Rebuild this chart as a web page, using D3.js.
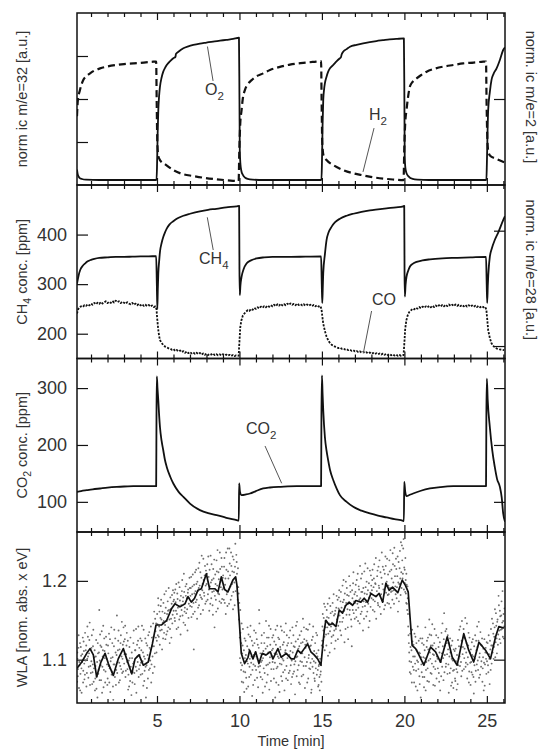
<!DOCTYPE html>
<html>
<head>
<meta charset="utf-8">
<script src="https://cdn.jsdelivr.net/npm/d3@7"></script>
<style>
  body { margin: 0; background: #fff; }
  svg { display: block; font-family: "Liberation Sans", Arial, sans-serif; }
</style>
</head>
<body>
<svg id="drawing_region"></svg>
<script>
// x axis: time [min]
const time_range = [0.15, 26.1];
const time_labels = [5, 10, 15, 20, 25];
const time_minor = d3.range(1, 27);

// panel 1: normalized ion currents (O2 = m/e 32, H2 = m/e 2)
const o2_data = [[0.15,0.09],[0.2,0.06],[0.3,0.042],[0.45,0.035],[0.7,0.031],[1.5,0.029],[3,0.029],[4.97,0.029],[5.0,0.10],[5.04,0.30],[5.08,0.436],[5.13,0.52],[5.18,0.571],[5.28,0.625],[5.38,0.659],[5.48,0.68],[5.59,0.698],[5.8,0.72],[5.99,0.737],[6.12,0.745],[6.15,0.762],[6.3,0.775],[6.6,0.795],[6.9,0.806],[7.2,0.814],[7.6,0.822],[8.0,0.828],[8.4,0.834],[8.82,0.839],[9.2,0.844],[9.62,0.849],[9.97,0.856],[10.0,0.5],[10.02,0.2],[10.06,0.12],[10.12,0.08],[10.2,0.06],[10.35,0.042],[10.5,0.035],[10.8,0.031],[11.5,0.029],[13,0.029],[14.97,0.029],[15.0,0.12],[15.04,0.35],[15.08,0.494],[15.13,0.555],[15.18,0.591],[15.28,0.63],[15.38,0.659],[15.5,0.68],[15.69,0.698],[15.9,0.72],[16.09,0.737],[16.15,0.742],[16.2,0.76],[16.29,0.775],[16.5,0.79],[16.7,0.804],[17.1,0.815],[17.5,0.824],[17.9,0.831],[18.3,0.837],[18.7,0.842],[19.1,0.847],[19.5,0.849],[19.97,0.852],[20.0,0.5],[20.02,0.16],[20.06,0.1],[20.13,0.068],[20.25,0.05],[20.5,0.035],[20.8,0.031],[21.5,0.029],[23,0.029],[24.97,0.029],[25.0,0.12],[25.04,0.3],[25.08,0.436],[25.18,0.54],[25.28,0.61],[25.4,0.645],[25.59,0.678],[25.8,0.73],[25.99,0.785],[26.1,0.8]];
const h2_data = [[0.15,0.40],[0.2,0.49],[0.33,0.552],[0.53,0.61],[0.75,0.635],[0.94,0.649],[1.2,0.665],[1.55,0.678],[2.0,0.689],[2.56,0.698],[3.0,0.703],[3.56,0.707],[4.2,0.712],[4.78,0.717],[4.95,0.718],[4.98,0.5],[5.02,0.25],[5.08,0.17],[5.18,0.145],[5.5,0.12],[5.99,0.087],[6.5,0.065],[7.2,0.052],[7.9,0.041],[8.62,0.033],[9.3,0.027],[9.95,0.023],[9.99,0.2],[10.05,0.36],[10.13,0.436],[10.2,0.50],[10.33,0.552],[10.5,0.585],[10.74,0.61],[11.0,0.63],[11.44,0.649],[11.85,0.669],[12.4,0.685],[13.06,0.7],[13.87,0.71],[14.5,0.716],[14.95,0.72],[14.98,0.5],[15.02,0.25],[15.1,0.17],[15.28,0.145],[15.7,0.115],[16.29,0.087],[16.9,0.068],[17.5,0.056],[18.1,0.045],[18.72,0.037],[19.3,0.032],[19.95,0.028],[19.99,0.2],[20.05,0.36],[20.13,0.436],[20.22,0.51],[20.33,0.571],[20.5,0.60],[20.74,0.62],[21.0,0.638],[21.35,0.659],[21.8,0.675],[22.35,0.688],[23.0,0.698],[23.56,0.707],[24.2,0.712],[24.78,0.717],[24.95,0.718],[24.98,0.5],[25.02,0.3],[25.08,0.2],[25.2,0.17],[25.5,0.155],[25.8,0.142],[26.1,0.13]];
const norm_ticks = [0.25, 0.5, 0.75];
const h2_ticks = [0.5];

// panel 2: CH4 [ppm] (left) and CO, norm. ic m/e=28 (right)
const ch4_data = [[0.15,301],[0.25,318],[0.35,329],[0.5,337],[0.65,342],[0.8,346],[1.0,349],[1.2,351],[1.5,353],[2.0,354],[2.5,355],[3.0,355],[3.5,355.5],[4.0,356],[4.5,356],[4.95,356.5],[4.99,300],[5.02,250],[5.05,290],[5.08,322],[5.13,346],[5.18,365],[5.28,383],[5.38,395],[5.48,404],[5.59,412],[5.75,420],[5.99,427],[6.25,433],[6.6,438],[7.0,442],[7.6,447],[8.1,450],[8.6,452],[9.2,455],[9.83,457],[9.98,458],[10.0,330],[10.02,278],[10.06,298],[10.13,315],[10.25,330],[10.44,342],[10.7,348],[11.05,352],[11.5,354],[12.0,355],[13.0,355],[14.0,355.5],[14.95,356],[14.99,300],[15.02,262],[15.05,290],[15.08,322],[15.18,360],[15.28,389],[15.4,404],[15.59,416],[15.8,425],[16.09,432],[16.5,438],[16.9,442],[17.4,446],[17.91,449],[18.4,451],[18.92,453],[19.5,455],[19.93,457],[19.99,458],[20.01,320],[20.03,275],[20.07,298],[20.13,315],[20.23,327],[20.33,335],[20.5,341],[20.74,345],[21.1,348],[21.55,350],[22.3,352],[22.96,353],[24.0,354],[24.95,355],[24.99,300],[25.02,262],[25.06,300],[25.12,335],[25.18,355],[25.3,372],[25.48,389],[25.7,405],[25.99,429],[26.1,437]];
const co_data = [[0.15,0.641],[0.22,0.659],[0.3,0.668],[0.4,0.672],[0.5,0.669],[0.6,0.677],[0.7,0.674],[0.8,0.681],[0.9,0.676],[1.0,0.684],[1.1,0.679],[1.2,0.687],[1.3,0.681],[1.4,0.688],[1.5,0.683],[1.6,0.691],[1.7,0.684],[1.8,0.689],[1.9,0.694],[2.0,0.686],[2.1,0.692],[2.2,0.687],[2.3,0.695],[2.4,0.689],[2.5,0.697],[2.6,0.690],[2.7,0.694],[2.8,0.686],[2.9,0.692],[3.0,0.688],[3.1,0.683],[3.2,0.690],[3.3,0.684],[3.4,0.681],[3.5,0.687],[3.6,0.679],[3.7,0.684],[3.8,0.677],[3.9,0.683],[4.0,0.676],[4.1,0.681],[4.2,0.674],[4.3,0.679],[4.4,0.673],[4.5,0.678],[4.6,0.671],[4.7,0.676],[4.8,0.669],[4.9,0.672],[4.97,0.660],[5.02,0.612],[5.08,0.569],[5.13,0.543],[5.18,0.526],[5.28,0.513],[5.38,0.505],[5.5,0.497],[5.6,0.494],[5.7,0.490],[5.8,0.489],[5.9,0.484],[6.0,0.487],[6.1,0.479],[6.2,0.483],[6.3,0.477],[6.4,0.481],[6.5,0.474],[6.6,0.478],[6.7,0.471],[6.8,0.476],[6.9,0.469],[7.0,0.474],[7.1,0.468],[7.2,0.472],[7.3,0.466],[7.4,0.471],[7.5,0.465],[7.6,0.470],[7.7,0.463],[7.8,0.468],[7.9,0.462],[8.0,0.467],[8.1,0.461],[8.2,0.466],[8.3,0.463],[8.4,0.468],[8.5,0.461],[8.6,0.465],[8.7,0.460],[8.8,0.464],[8.9,0.459],[9.0,0.465],[9.1,0.460],[9.2,0.463],[9.3,0.458],[9.4,0.462],[9.5,0.457],[9.6,0.461],[9.7,0.456],[9.8,0.460],[9.95,0.458],[10.0,0.52],[10.05,0.582],[10.12,0.612],[10.2,0.631],[10.3,0.641],[10.4,0.649],[10.5,0.655],[10.6,0.652],[10.7,0.661],[10.8,0.657],[10.9,0.665],[11.0,0.661],[11.1,0.668],[11.2,0.663],[11.3,0.671],[11.4,0.666],[11.5,0.673],[11.6,0.668],[11.7,0.675],[11.8,0.670],[11.9,0.677],[12.0,0.672],[12.1,0.679],[12.2,0.673],[12.3,0.681],[12.4,0.675],[12.5,0.683],[12.6,0.676],[12.7,0.682],[12.8,0.677],[12.9,0.684],[13.0,0.678],[13.1,0.685],[13.2,0.679],[13.3,0.683],[13.4,0.677],[13.5,0.684],[13.6,0.678],[13.7,0.682],[13.8,0.676],[13.9,0.681],[14.0,0.675],[14.1,0.680],[14.2,0.674],[14.3,0.679],[14.4,0.673],[14.5,0.678],[14.6,0.672],[14.7,0.677],[14.8,0.671],[14.9,0.674],[14.97,0.662],[15.03,0.625],[15.08,0.597],[15.18,0.565],[15.28,0.541],[15.4,0.522],[15.5,0.512],[15.6,0.505],[15.7,0.501],[15.8,0.497],[15.9,0.495],[16.0,0.491],[16.1,0.493],[16.2,0.488],[16.3,0.490],[16.4,0.485],[16.5,0.487],[16.6,0.482],[16.7,0.484],[16.8,0.479],[16.9,0.482],[17.0,0.477],[17.1,0.479],[17.2,0.474],[17.3,0.477],[17.4,0.472],[17.5,0.475],[17.6,0.470],[17.7,0.473],[17.8,0.468],[17.9,0.472],[18.0,0.467],[18.1,0.470],[18.2,0.465],[18.3,0.469],[18.4,0.464],[18.5,0.468],[18.6,0.463],[18.7,0.467],[18.8,0.462],[18.9,0.466],[19.0,0.461],[19.1,0.465],[19.2,0.460],[19.3,0.464],[19.4,0.459],[19.5,0.463],[19.6,0.458],[19.7,0.462],[19.8,0.457],[19.95,0.461],[20.0,0.515],[20.05,0.575],[20.12,0.612],[20.2,0.633],[20.3,0.648],[20.4,0.655],[20.5,0.662],[20.6,0.659],[20.7,0.666],[20.8,0.662],[20.9,0.669],[21.0,0.664],[21.1,0.671],[21.2,0.666],[21.3,0.672],[21.4,0.667],[21.5,0.674],[21.6,0.668],[21.7,0.675],[21.8,0.669],[21.9,0.676],[22.0,0.670],[22.1,0.677],[22.2,0.671],[22.3,0.678],[22.4,0.672],[22.5,0.679],[22.6,0.673],[22.7,0.680],[22.8,0.674],[22.9,0.679],[23.0,0.673],[23.1,0.680],[23.2,0.674],[23.3,0.679],[23.4,0.673],[23.5,0.678],[23.6,0.672],[23.7,0.678],[23.8,0.671],[23.9,0.677],[24.0,0.671],[24.1,0.676],[24.2,0.670],[24.3,0.675],[24.4,0.669],[24.5,0.674],[24.6,0.668],[24.7,0.673],[24.8,0.668],[24.9,0.670],[24.97,0.658],[25.03,0.610],[25.08,0.569],[25.18,0.535],[25.28,0.512],[25.4,0.500],[25.5,0.493],[25.6,0.489],[25.7,0.487],[25.8,0.485],[25.9,0.484],[26.05,0.482]];
const ch4_ticks = [200, 300, 400];
const co_ticks = [0.5, 1.0];

// panel 3: CO2 [ppm]
const co2_data = [[0.15,117.5],[0.4,119],[0.74,120.5],[1.1,122],[1.55,123.5],[2.0,125],[2.56,126.3],[3.0,127],[3.56,127.5],[4.2,127.8],[4.95,127.5],[4.97,250],[4.99,320.5],[5.03,300],[5.08,278],[5.13,252],[5.18,231.6],[5.28,207],[5.38,190.7],[5.48,174],[5.59,161.4],[5.79,145],[5.99,132.3],[6.3,118],[6.6,108.8],[7.0,97],[7.6,85.4],[8.1,80],[8.62,76.7],[9.2,72],[9.83,67.9],[9.96,67],[9.98,132.3],[10.03,118],[10.13,111.8],[10.4,113],[10.64,114.7],[11.0,119],[11.44,123.5],[11.85,125.2],[12.5,126.5],[13.47,127.5],[14.2,127.8],[14.95,127.8],[14.97,250],[15.0,322.3],[15.04,290],[15.08,260.9],[15.18,214],[15.28,190],[15.38,173],[15.5,155],[15.69,138],[15.9,123],[16.09,111.8],[16.5,100],[16.9,91.2],[17.4,84.5],[17.91,79.6],[18.4,75.8],[18.92,72.6],[19.4,69.5],[19.93,66.7],[19.97,66.2],[19.99,135],[20.05,118],[20.13,110],[20.3,112],[20.53,114.7],[21.0,119.5],[21.55,123.5],[22.2,126],[22.96,127.5],[24.0,127.8],[24.95,127.8],[24.97,250],[25.0,316.5],[25.05,280],[25.18,231.6],[25.33,190],[25.48,161.4],[25.62,140],[25.79,126.3],[25.9,108],[25.99,79.6],[26.1,65]];
const co2_ticks = [100, 200, 300];

// panel 4: WLA, single readings (grey dots) and running mean (black line)
const wla_mean = [[0.15,1.089],[0.44,1.097],[0.74,1.108],[0.94,1.114],[1.14,1.106],[1.34,1.078],[1.6,1.097],[1.85,1.108],[2.05,1.095],[2.35,1.080],[2.65,1.101],[2.96,1.114],[3.16,1.101],[3.47,1.082],[3.67,1.101],[3.91,1.106],[4.17,1.093],[4.47,1.097],[4.72,1.120],[4.94,1.144],[5.28,1.144],[5.59,1.150],[5.89,1.165],[6.09,1.171],[6.39,1.167],[6.7,1.171],[6.88,1.180],[7.08,1.173],[7.28,1.178],[7.48,1.188],[7.69,1.190],[7.99,1.209],[8.19,1.190],[8.5,1.190],[8.7,1.186],[8.9,1.205],[9.1,1.189],[9.3,1.186],[9.6,1.201],[9.77,1.205],[9.85,1.194],[10.01,1.142],[10.11,1.108],[10.31,1.095],[10.52,1.103],[10.62,1.112],[10.82,1.101],[10.98,1.110],[11.18,1.095],[11.38,1.108],[11.62,1.106],[11.87,1.110],[12.03,1.101],[12.33,1.114],[12.53,1.103],[12.84,1.108],[13.14,1.101],[13.32,1.101],[13.53,1.112],[13.73,1.108],[13.93,1.114],[14.13,1.120],[14.33,1.110],[14.53,1.106],[14.74,1.101],[14.94,1.093],[15.14,1.137],[15.24,1.150],[15.44,1.144],[15.65,1.146],[15.85,1.142],[16.05,1.163],[16.25,1.159],[16.45,1.169],[16.65,1.173],[16.86,1.169],[17.06,1.175],[17.36,1.173],[17.56,1.178],[17.77,1.173],[17.97,1.184],[18.27,1.180],[18.47,1.184],[18.68,1.173],[18.88,1.197],[19.08,1.188],[19.28,1.192],[19.6,1.185],[19.87,1.201],[20.07,1.194],[20.23,1.186],[20.37,1.146],[20.47,1.118],[20.68,1.114],[20.88,1.106],[21.18,1.093],[21.59,1.116],[21.89,1.110],[22.19,1.097],[22.6,1.129],[22.9,1.103],[23.2,1.093],[23.6,1.133],[23.9,1.112],[24.2,1.097],[24.52,1.122],[24.92,1.112],[25.22,1.101],[25.53,1.129],[25.73,1.142],[26.03,1.140]];
const wla_points = [
[0.16,1.072],[0.18,1.101],[0.21,1.088],[0.24,1.115],[0.27,1.064],[0.3,1.093],[0.33,1.121],[0.36,1.082],[0.4,1.105],[0.43,1.058],[0.46,1.097],[0.5,1.128],[0.53,1.086],[0.57,1.111],[0.6,1.075],[0.64,1.134],[0.67,1.099],[0.71,1.118],[0.75,1.083],[0.78,1.142],[0.82,1.104],[0.86,1.091],[0.9,1.125],[0.94,1.068],[0.97,1.113],
[1.02,1.098],[1.05,1.131],[1.09,1.084],[1.12,1.117],[1.16,1.072],[1.2,1.103],[1.24,1.061],[1.27,1.092],[1.31,1.125],[1.35,1.079],[1.39,1.052],[1.42,1.108],[1.46,1.087],[1.5,1.163],[1.53,1.099],[1.57,1.118],[1.61,1.074],[1.65,1.136],[1.69,1.091],[1.72,1.112],[1.76,1.065],[1.8,1.127],[1.84,1.102],[1.88,1.085],[1.93,1.119],[1.97,1.094],
[2.01,1.076],[2.05,1.108],[2.09,1.133],[2.13,1.089],[2.17,1.059],[2.21,1.102],[2.25,1.081],[2.29,1.121],[2.33,1.066],[2.37,1.094],[2.41,1.138],[2.45,1.078],[2.49,1.109],[2.53,1.087],[2.57,1.156],[2.61,1.097],[2.65,1.124],[2.69,1.071],[2.73,1.113],[2.77,1.092],[2.81,1.131],[2.85,1.104],[2.89,1.083],[2.93,1.119],[2.97,1.141],
[3.01,1.095],[3.05,1.126],[3.09,1.078],[3.13,1.107],[3.17,1.134],[3.21,1.088],[3.25,1.062],[3.29,1.099],[3.33,1.116],[3.37,1.073],[3.41,1.091],[3.45,1.055],[3.49,1.102],[3.53,1.084],[3.57,1.121],[3.61,1.097],[3.65,1.069],[3.69,1.112],[3.73,1.139],[3.77,1.086],[3.81,1.104],[3.85,1.124],[3.89,1.078],[3.93,1.115],[3.97,1.093],
[4.01,1.081],[4.05,1.112],[4.09,1.143],[4.13,1.098],[4.17,1.067],[4.21,1.104],[4.25,1.086],[4.29,1.127],[4.33,1.052],[4.37,1.093],[4.41,1.118],[4.45,1.076],[4.49,1.101],[4.53,1.135],[4.57,1.089],[4.61,1.113],[4.65,1.071],[4.69,1.128],[4.73,1.104],[4.77,1.146],[4.81,1.117],[4.85,1.091],[4.89,1.152],[4.93,1.128],[4.97,1.109],
[5.01,1.158],[5.05,1.131],[5.09,1.169],[5.13,1.142],[5.17,1.119],[5.21,1.153],[5.25,1.176],[5.29,1.138],[5.33,1.161],[5.37,1.127],[5.41,1.149],[5.45,1.183],[5.49,1.144],[5.53,1.166],[5.57,1.132],[5.61,1.158],[5.65,1.174],[5.69,1.141],[5.73,1.163],[5.77,1.121],[5.81,1.179],[5.85,1.152],[5.89,1.171],[5.93,1.146],[5.97,1.188],
[6.01,1.162],[6.05,1.185],[6.09,1.149],[6.13,1.173],[6.17,1.196],[6.21,1.158],[6.25,1.177],[6.29,1.141],[6.33,1.168],[6.37,1.192],[6.41,1.155],[6.45,1.181],[6.49,1.163],[6.53,1.201],[6.57,1.174],[6.61,1.147],[6.65,1.186],[6.69,1.166],[6.73,1.193],[6.77,1.159],[6.81,1.178],[6.85,1.137],[6.89,1.189],[6.93,1.171],[6.97,1.204],
[7.01,1.168],[7.05,1.191],[7.09,1.154],[7.13,1.183],[7.17,1.208],[7.21,1.172],[7.23,1.113],[7.25,1.195],[7.29,1.161],[7.33,1.187],[7.37,1.214],[7.41,1.176],[7.45,1.199],[7.49,1.166],[7.53,1.191],[7.57,1.223],[7.61,1.182],[7.65,1.158],[7.69,1.204],[7.73,1.177],[7.77,1.196],[7.81,1.228],[7.85,1.185],[7.89,1.207],[7.93,1.171],[7.97,1.213],
[8.01,1.196],[8.05,1.221],[8.09,1.183],[8.13,1.205],[8.17,1.162],[8.21,1.193],[8.25,1.232],[8.29,1.178],[8.33,1.201],[8.37,1.169],[8.41,1.215],[8.45,1.187],[8.49,1.141],[8.53,1.208],[8.57,1.176],[8.61,1.226],[8.65,1.194],[8.69,1.165],[8.73,1.211],[8.77,1.183],[8.81,1.236],[8.85,1.199],[8.89,1.172],[8.93,1.218],[8.97,1.189],
[9.01,1.207],[9.05,1.176],[9.09,1.229],[9.13,1.195],[9.17,1.158],[9.21,1.214],[9.25,1.186],[9.29,1.241],[9.33,1.203],[9.37,1.171],[9.41,1.222],[9.45,1.193],[9.49,1.236],[9.53,1.181],[9.57,1.212],[9.61,1.164],[9.65,1.227],[9.69,1.198],[9.73,1.218],[9.77,1.187],[9.81,1.233],[9.85,1.209],[9.89,1.176],[9.93,1.192],[9.97,1.151],
[10.02,1.128],[10.05,1.163],[10.08,1.096],[10.11,1.121],[10.14,1.072],[10.17,1.108],[10.21,1.139],[10.25,1.085],[10.29,1.059],[10.33,1.102],[10.37,1.124],[10.41,1.077],[10.45,1.098],[10.49,1.141],[10.53,1.066],[10.57,1.113],[10.61,1.091],[10.65,1.129],[10.69,1.081],[10.73,1.104],[10.77,1.054],[10.81,1.118],[10.85,1.094],[10.89,1.137],[10.93,1.074],[10.97,1.109],
[11.01,1.087],[11.05,1.126],[11.09,1.101],[11.13,1.065],[11.17,1.115],[11.21,1.146],[11.25,1.092],[11.29,1.078],[11.33,1.121],[11.37,1.099],[11.41,1.058],[11.45,1.111],[11.49,1.134],[11.53,1.083],[11.57,1.106],[11.61,1.149],[11.65,1.071],[11.69,1.117],[11.73,1.094],[11.77,1.128],[11.81,1.062],[11.85,1.103],[11.89,1.139],[11.93,1.088],[11.97,1.112],
[12.01,1.097],[12.05,1.131],[12.09,1.076],[12.13,1.108],[12.17,1.052],[12.21,1.119],[12.25,1.089],[12.29,1.143],[12.33,1.104],[12.37,1.068],[12.41,1.126],[12.45,1.095],[12.49,1.113],[12.53,1.079],[12.57,1.137],[12.61,1.101],[12.65,1.084],[12.69,1.122],[12.73,1.061],[12.77,1.109],[12.81,1.146],[12.85,1.092],[12.89,1.118],[12.93,1.074],[12.97,1.105],
[13.01,1.128],[13.05,1.086],[13.09,1.111],[13.13,1.069],[13.17,1.099],[13.21,1.141],[13.25,1.082],[13.29,1.117],[13.33,1.094],[13.37,1.056],[13.41,1.123],[13.45,1.103],[13.49,1.148],[13.53,1.087],[13.57,1.114],[13.61,1.071],[13.65,1.131],[13.69,1.098],[13.73,1.121],[13.77,1.079],[13.81,1.108],[13.85,1.152],[13.89,1.092],[13.93,1.126],[13.97,1.064],
[14.01,1.115],[14.05,1.139],[14.09,1.097],[14.13,1.121],[14.17,1.076],[14.21,1.106],[14.25,1.145],[14.29,1.088],[14.33,1.118],[14.35,1.058],[14.37,1.062],[14.41,1.101],[14.45,1.129],[14.49,1.083],[14.53,1.111],[14.57,1.073],[14.61,1.096],[14.65,1.134],[14.69,1.081],[14.73,1.104],[14.77,1.066],[14.8,1.068],[14.81,1.092],[14.85,1.078],[14.89,1.101],[14.93,1.085],[14.97,1.072],
[15.02,1.124],[15.05,1.158],[15.09,1.137],[15.13,1.171],[15.17,1.112],[15.21,1.149],[15.25,1.132],[15.29,1.163],[15.33,1.141],[15.37,1.105],[15.41,1.153],[15.45,1.178],[15.49,1.136],[15.53,1.159],[15.57,1.121],[15.61,1.147],[15.65,1.172],[15.69,1.131],[15.73,1.156],[15.77,1.114],[15.81,1.162],[15.85,1.139],[15.89,1.181],[15.93,1.148],[15.97,1.126],
[16.01,1.165],[16.05,1.188],[16.09,1.148],[16.13,1.174],[16.17,1.131],[16.21,1.161],[16.25,1.194],[16.29,1.153],[16.33,1.176],[16.37,1.122],[16.41,1.168],[16.45,1.199],[16.49,1.157],[16.53,1.182],[16.57,1.141],[16.61,1.171],[16.65,1.206],[16.69,1.163],[16.73,1.186],[16.77,1.151],[16.81,1.117],[16.85,1.178],[16.89,1.197],[16.93,1.159],[16.97,1.183],
[17.01,1.172],[17.05,1.195],[17.09,1.154],[17.13,1.181],[17.17,1.209],[17.21,1.166],[17.25,1.189],[17.29,1.146],[17.33,1.178],[17.37,1.203],[17.41,1.161],[17.45,1.186],[17.49,1.137],[17.53,1.174],[17.57,1.212],[17.61,1.168],[17.65,1.192],[17.69,1.155],[17.73,1.183],[17.77,1.216],[17.81,1.171],[17.85,1.197],[17.89,1.149],[17.93,1.185],[17.97,1.207],
[18.01,1.178],[18.05,1.201],[18.09,1.163],[18.13,1.192],[18.17,1.221],[18.21,1.174],[18.25,1.196],[18.29,1.152],[18.33,1.187],[18.37,1.213],[18.41,1.169],[18.45,1.194],[18.49,1.226],[18.53,1.181],[18.57,1.158],[18.61,1.204],[18.65,1.176],[18.69,1.218],[18.73,1.189],[18.77,1.164],[18.81,1.209],[18.85,1.231],[18.89,1.185],[18.93,1.199],[18.97,1.172],
[19.01,1.208],[19.05,1.183],[19.09,1.226],[19.13,1.191],[19.17,1.166],[19.21,1.214],[19.25,1.187],[19.29,1.235],[19.33,1.198],[19.37,1.171],[19.41,1.219],[19.45,1.193],[19.49,1.228],[19.53,1.178],[19.57,1.206],[19.61,1.161],[19.65,1.224],[19.69,1.196],[19.73,1.238],[19.77,1.182],[19.81,1.211],[19.85,1.245],[19.89,1.203],[19.93,1.241],[19.97,1.189],
[20.02,1.214],[20.05,1.186],[20.08,1.201],[20.11,1.172],[20.14,1.195],[20.17,1.163],[20.2,1.178],[20.23,1.142],[20.27,1.121],[20.31,1.098],[20.35,1.133],[20.39,1.082],[20.43,1.112],[20.47,1.138],[20.51,1.091],[20.55,1.119],[20.59,1.071],[20.63,1.104],[20.67,1.129],[20.71,1.086],[20.75,1.112],[20.79,1.061],[20.83,1.097],[20.87,1.124],[20.91,1.079],[20.95,1.108],[20.99,1.052],
[21.03,1.094],[21.07,1.121],[21.11,1.078],[21.15,1.103],[21.19,1.065],[21.23,1.112],[21.27,1.141],[21.31,1.087],[21.35,1.116],[21.39,1.073],[21.43,1.128],[21.47,1.099],[21.51,1.151],[21.55,1.109],[21.59,1.083],[21.63,1.131],[21.67,1.095],[21.71,1.118],[21.75,1.068],[21.79,1.106],[21.83,1.139],[21.87,1.088],[21.91,1.114],[21.95,1.076],
[22.01,1.101],[22.05,1.128],[22.09,1.083],[22.13,1.109],[22.17,1.061],[22.21,1.097],[22.25,1.134],[22.29,1.091],[22.33,1.117],[22.37,1.074],[22.41,1.159],[22.45,1.106],[22.49,1.136],[22.53,1.095],[22.57,1.121],[22.61,1.082],[22.65,1.113],[22.69,1.058],[22.73,1.104],[22.77,1.127],[22.81,1.089],[22.85,1.118],[22.89,1.071],[22.93,1.099],[22.97,1.064],
[23.01,1.087],[23.05,1.111],[23.09,1.073],[23.13,1.098],[23.17,1.062],[23.21,1.084],[23.25,1.125],[23.29,1.101],[23.33,1.138],[23.37,1.092],[23.41,1.116],[23.45,1.079],[23.49,1.149],[23.53,1.107],[23.57,1.128],[23.61,1.088],[23.65,1.114],[23.69,1.153],[23.73,1.096],[23.77,1.121],[23.81,1.076],[23.85,1.103],[23.89,1.134],[23.93,1.085],[23.97,1.109],
[24.01,1.068],[24.05,1.097],[24.09,1.122],[24.13,1.081],[24.17,1.104],[24.21,1.057],[24.25,1.093],[24.29,1.131],[24.33,1.086],[24.37,1.112],[24.41,1.142],[24.45,1.099],[24.49,1.124],[24.53,1.077],[24.57,1.108],[24.61,1.135],[24.65,1.091],[24.69,1.118],[24.73,1.072],[24.77,1.103],[24.81,1.061],[24.85,1.126],[24.89,1.094],[24.93,1.115],[24.97,1.082],
[25.01,1.098],[25.05,1.121],[25.09,1.084],[25.13,1.107],[25.17,1.069],[25.21,1.113],[25.25,1.139],[25.29,1.095],[25.33,1.118],[25.37,1.146],[25.41,1.101],[25.45,1.129],[25.49,1.164],[25.53,1.122],[25.57,1.143],[25.61,1.108],[25.65,1.151],[25.69,1.132],[25.73,1.169],[25.77,1.126],[25.81,1.155],[25.85,1.138],[25.89,1.174],[25.93,1.147],[25.97,1.129],[26.01,1.158],[26.05,1.142]
];
const wla_points_2 = [
[0.17,1.109],[0.2,1.079],[0.25,1.131],[0.29,1.097],[0.34,1.061],[0.38,1.116],[0.42,1.089],[0.47,1.107],[0.52,1.071],[0.55,1.123],[0.59,1.095],[0.63,1.081],[0.68,1.112],[0.72,1.066],[0.77,1.101],[0.81,1.129],[0.84,1.077],[0.88,1.108],[0.92,1.147],[0.96,1.092],[0.99,1.083],
[1.03,1.115],[1.07,1.069],[1.11,1.094],[1.14,1.138],[1.18,1.089],[1.22,1.112],[1.26,1.076],[1.29,1.104],[1.33,1.063],[1.37,1.097],[1.41,1.121],[1.44,1.082],[1.48,1.109],[1.52,1.074],[1.55,1.132],[1.59,1.093],[1.63,1.116],[1.67,1.058],[1.71,1.104],[1.74,1.143],[1.78,1.087],[1.82,1.111],[1.86,1.071],[1.91,1.129],[1.95,1.101],[1.99,1.068],
[2.03,1.118],[2.07,1.092],[2.11,1.071],[2.15,1.126],[2.19,1.098],[2.23,1.141],[2.27,1.085],[2.31,1.103],[2.35,1.049],[2.39,1.117],[2.43,1.094],[2.47,1.127],[2.51,1.068],[2.55,1.106],[2.59,1.083],[2.63,1.112],[2.67,1.137],[2.71,1.096],[2.75,1.074],[2.79,1.121],[2.83,1.088],[2.87,1.148],[2.91,1.101],[2.95,1.085],[2.99,1.123],
[3.03,1.107],[3.07,1.143],[3.11,1.086],[3.15,1.118],[3.19,1.097],[3.23,1.124],[3.27,1.081],[3.31,1.066],[3.35,1.102],[3.39,1.128],[3.43,1.084],[3.47,1.109],[3.51,1.071],[3.55,1.095],[3.59,1.137],[3.63,1.083],[3.67,1.112],[3.71,1.091],[3.75,1.058],[3.79,1.119],[3.83,1.097],[3.87,1.142],[3.91,1.088],[3.95,1.106],[3.99,1.127],
[4.03,1.096],[4.07,1.124],[4.11,1.082],[4.15,1.109],[4.19,1.138],[4.23,1.073],[4.27,1.101],[4.31,1.091],[4.35,1.121],[4.39,1.064],[4.43,1.106],[4.47,1.131],[4.51,1.087],[4.55,1.115],[4.59,1.099],[4.63,1.142],[4.67,1.094],[4.71,1.117],[4.75,1.083],[4.79,1.129],[4.83,1.161],[4.87,1.108],[4.91,1.136],[4.95,1.146],[4.99,1.124],
[5.03,1.145],[5.07,1.178],[5.11,1.129],[5.15,1.161],[5.19,1.137],[5.23,1.168],[5.27,1.151],[5.31,1.113],[5.35,1.147],[5.39,1.172],[5.43,1.134],[5.47,1.159],[5.51,1.126],[5.55,1.187],[5.59,1.149],[5.63,1.136],[5.67,1.162],[5.71,1.191],[5.75,1.151],[5.79,1.139],[5.83,1.164],[5.87,1.128],[5.91,1.182],[5.95,1.157],[5.99,1.174],
[6.03,1.176],[6.07,1.153],[6.11,1.189],[6.15,1.162],[6.19,1.139],[6.23,1.184],[6.27,1.166],[6.31,1.198],[6.35,1.151],[6.39,1.175],[6.43,1.132],[6.47,1.169],[6.51,1.187],[6.55,1.156],[6.59,1.179],[6.63,1.209],[6.67,1.161],[6.71,1.144],[6.75,1.181],[6.79,1.196],[6.83,1.164],[6.87,1.185],[6.91,1.153],[6.95,1.178],[6.99,1.191],
[7.03,1.181],[7.07,1.205],[7.11,1.167],[7.15,1.193],[7.19,1.158],[7.27,1.184],[7.31,1.211],[7.35,1.173],[7.39,1.196],[7.43,1.152],[7.47,1.187],[7.51,1.216],[7.55,1.169],[7.59,1.194],[7.63,1.211],[7.67,1.179],[7.71,1.232],[7.75,1.188],[7.79,1.163],[7.83,1.201],[7.87,1.181],[7.91,1.219],[7.95,1.194],[7.99,1.174],
[8.03,1.209],[8.07,1.176],[8.11,1.231],[8.15,1.189],[8.19,1.214],[8.23,1.171],[8.27,1.198],[8.31,1.221],[8.35,1.186],[8.39,1.157],[8.43,1.203],[8.47,1.227],[8.51,1.181],[8.55,1.196],[8.59,1.161],[8.63,1.212],[8.67,1.239],[8.71,1.184],[8.75,1.202],[8.79,1.174],[8.83,1.215],[8.87,1.192],[8.91,1.229],[8.95,1.177],[8.99,1.204],
[9.03,1.191],[9.07,1.218],[9.11,1.172],[9.15,1.203],[9.19,1.236],[9.23,1.183],[9.27,1.168],[9.31,1.212],[9.35,1.189],[9.39,1.241],[9.43,1.207],[9.47,1.176],[9.51,1.219],[9.55,1.196],[9.59,1.231],[9.63,1.186],[9.67,1.211],[9.71,1.169],[9.75,1.247],[9.79,1.201],[9.83,1.224],[9.87,1.193],[9.91,1.216],[9.95,1.184],[9.99,1.172],
[10.03,1.102],[10.06,1.134],[10.1,1.087],[10.13,1.146],[10.16,1.093],[10.19,1.118],[10.23,1.071],[10.27,1.112],[10.31,1.127],[10.35,1.084],[10.39,1.106],[10.43,1.063],[10.47,1.117],[10.51,1.095],[10.55,1.132],[10.59,1.078],[10.63,1.101],[10.67,1.143],[10.71,1.096],[10.75,1.124],[10.79,1.087],[10.83,1.068],[10.87,1.106],[10.91,1.121],[10.95,1.092],[10.99,1.134],
[11.03,1.104],[11.07,1.077],[11.11,1.119],[11.15,1.091],[11.19,1.163],[11.23,1.084],[11.27,1.108],[11.31,1.097],[11.35,1.131],[11.39,1.075],[11.43,1.102],[11.47,1.089],[11.51,1.121],[11.55,1.066],[11.59,1.114],[11.63,1.093],[11.67,1.128],[11.71,1.081],[11.75,1.109],[11.79,1.143],[11.83,1.096],[11.87,1.119],[11.91,1.073],[11.95,1.105],[11.99,1.128],
[12.03,1.114],[12.07,1.088],[12.11,1.123],[12.15,1.096],[12.19,1.138],[12.23,1.071],[12.27,1.107],[12.31,1.091],[12.35,1.128],[12.39,1.102],[12.43,1.059],[12.47,1.116],[12.51,1.142],[12.55,1.094],[12.59,1.073],[12.63,1.119],[12.67,1.099],[12.71,1.135],[12.75,1.087],[12.79,1.112],[12.83,1.076],[12.87,1.131],[12.91,1.102],[12.95,1.121],[12.99,1.083],
[13.03,1.106],[13.07,1.137],[13.11,1.093],[13.15,1.121],[13.19,1.078],[13.23,1.109],[13.27,1.131],[13.31,1.085],[13.35,1.116],[13.39,1.098],[13.43,1.143],[13.47,1.079],[13.51,1.104],[13.55,1.126],[13.59,1.093],[13.63,1.117],[13.67,1.069],[13.71,1.109],[13.75,1.136],[13.79,1.097],[13.83,1.122],[13.87,1.081],[13.91,1.141],[13.95,1.103],[13.99,1.119],
[14.03,1.092],[14.07,1.124],[14.11,1.071],[14.15,1.138],[14.19,1.102],[14.23,1.089],[14.27,1.117],[14.31,1.096],[14.39,1.125],[14.43,1.091],[14.47,1.142],[14.51,1.098],[14.55,1.076],[14.59,1.121],[14.63,1.089],[14.67,1.108],[14.71,1.131],[14.75,1.087],[14.79,1.112],[14.83,1.094],[14.87,1.061],[14.91,1.081],[14.95,1.093],[14.99,1.118],
[15.03,1.142],[15.07,1.116],[15.11,1.153],[15.15,1.129],[15.19,1.167],[15.23,1.141],[15.27,1.118],[15.31,1.154],[15.35,1.171],[15.39,1.133],[15.43,1.146],[15.47,1.109],[15.51,1.168],[15.55,1.142],[15.59,1.129],[15.63,1.161],[15.67,1.145],[15.71,1.183],[15.75,1.137],[15.79,1.158],[15.83,1.124],[15.87,1.166],[15.91,1.151],[15.95,1.176],[15.99,1.143],
[16.03,1.179],[16.07,1.156],[16.11,1.137],[16.15,1.186],[16.19,1.166],[16.23,1.148],[16.27,1.173],[16.31,1.201],[16.35,1.162],[16.39,1.184],[16.43,1.139],[16.47,1.172],[16.51,1.191],[16.55,1.164],[16.59,1.126],[16.63,1.181],[16.67,1.157],[16.71,1.194],[16.75,1.171],[16.79,1.142],[16.83,1.188],[16.87,1.163],[16.91,1.211],[16.95,1.174],[16.99,1.152],
[17.03,1.186],[17.07,1.163],[17.11,1.201],[17.15,1.171],[17.19,1.149],[17.23,1.193],[17.27,1.176],[17.31,1.219],[17.35,1.158],[17.39,1.186],[17.43,1.209],[17.47,1.167],[17.51,1.191],[17.55,1.152],[17.59,1.184],[17.63,1.222],[17.67,1.173],[17.71,1.199],[17.75,1.161],[17.79,1.188],[17.83,1.141],[17.87,1.179],[17.91,1.213],[17.95,1.167],[17.99,1.194],
[18.03,1.188],[18.07,1.214],[18.11,1.176],[18.15,1.203],[18.19,1.161],[18.23,1.197],[18.27,1.229],[18.31,1.181],[18.35,1.206],[18.39,1.172],[18.43,1.218],[18.47,1.191],[18.51,1.167],[18.55,1.211],[18.59,1.183],[18.63,1.236],[18.67,1.196],[18.71,1.174],[18.75,1.214],[18.79,1.187],[18.83,1.169],[18.87,1.219],[18.91,1.193],[18.95,1.228],[18.99,1.182],
[19.03,1.194],[19.07,1.171],[19.11,1.212],[19.15,1.239],[19.19,1.186],[19.23,1.203],[19.27,1.176],[19.31,1.221],[19.35,1.188],[19.39,1.242],[19.43,1.206],[19.47,1.183],[19.51,1.215],[19.55,1.192],[19.59,1.231],[19.63,1.198],[19.67,1.174],[19.71,1.216],[19.75,1.203],[19.79,1.249],[19.83,1.191],[19.87,1.226],[19.91,1.209],[19.95,1.253],[19.99,1.217],
[20.03,1.197],[20.06,1.229],[20.09,1.184],[20.12,1.209],[20.15,1.171],[20.19,1.193],[20.22,1.158],[20.25,1.131],[20.29,1.109],[20.33,1.084],[20.37,1.116],[20.41,1.097],[20.45,1.071],[20.49,1.123],[20.53,1.104],[20.57,1.087],[20.61,1.133],[20.65,1.095],[20.69,1.066],[20.73,1.121],[20.77,1.099],[20.81,1.142],[20.85,1.088],[20.89,1.109],[20.93,1.069],[20.97,1.127],
[21.01,1.103],[21.05,1.084],[21.09,1.127],[21.13,1.096],[21.17,1.119],[21.21,1.078],[21.25,1.102],[21.29,1.061],[21.33,1.097],[21.37,1.124],[21.41,1.089],[21.45,1.113],[21.49,1.072],[21.53,1.132],[21.57,1.101],[21.61,1.118],[21.65,1.082],[21.69,1.145],[21.73,1.107],[21.77,1.091],[21.81,1.121],[21.85,1.067],[21.89,1.098],[21.93,1.131],[21.97,1.104],
[22.03,1.089],[22.07,1.116],[22.11,1.072],[22.15,1.122],[22.19,1.097],[22.23,1.079],[22.27,1.108],[22.31,1.146],[22.35,1.102],[22.39,1.126],[22.43,1.084],[22.47,1.118],[22.51,1.091],[22.55,1.139],[22.59,1.107],[22.63,1.131],[22.67,1.094],[22.71,1.121],[22.75,1.083],[22.79,1.109],[22.83,1.067],[22.87,1.101],[22.91,1.124],[22.95,1.086],[22.99,1.113],
[23.03,1.099],[23.07,1.076],[23.11,1.114],[23.15,1.088],[23.19,1.106],[23.23,1.069],[23.27,1.093],[23.31,1.117],[23.35,1.104],[23.39,1.142],[23.43,1.097],[23.47,1.124],[23.51,1.086],[23.55,1.116],[23.59,1.139],[23.63,1.102],[23.67,1.127],[23.71,1.091],[23.75,1.109],[23.79,1.146],[23.83,1.094],[23.87,1.118],[23.91,1.071],[23.95,1.128],[23.99,1.096],
[24.03,1.113],[24.07,1.084],[24.11,1.106],[24.15,1.126],[24.19,1.078],[24.23,1.117],[24.27,1.101],[24.31,1.072],[24.35,1.124],[24.39,1.094],[24.43,1.116],[24.47,1.087],[24.51,1.148],[24.55,1.103],[24.59,1.081],[24.63,1.119],[24.67,1.098],[24.71,1.127],[24.75,1.089],[24.79,1.114],[24.83,1.096],[24.87,1.067],[24.91,1.109],[24.95,1.101],[24.99,1.122],
[25.03,1.108],[25.07,1.093],[25.11,1.131],[25.15,1.101],[25.19,1.124],[25.23,1.087],[25.27,1.118],[25.31,1.152],[25.35,1.109],[25.39,1.133],[25.43,1.116],[25.47,1.141],[25.51,1.103],[25.55,1.159],[25.59,1.127],[25.63,1.148],[25.67,1.119],[25.71,1.181],[25.75,1.137],[25.79,1.162],[25.83,1.121],[25.87,1.156],[25.91,1.139],[25.95,1.187],[25.99,1.149],[26.03,1.127],[26.07,1.165]
];
const wla_ticks = [1.1, 1.2];

// labels on the curves: panel, text parts, label anchor, leader line (data units)
const callouts = [
    { panel: 0, parts: [['O', false], ['2', true]],  at: [7.91, 0.523],  line: [[8.06, 0.805], [8.40, 0.605]] },
    { panel: 0, parts: [['H', false], ['2', true]],  at: [17.85, 0.378], line: [[18.16, 0.331], [17.49, 0.076]] },
    { panel: 1, parts: [['CH', false], ['4', true]], at: [7.55, 340.6],  line: [[8.05, 434.8], [8.41, 368.9]] },
    { panel: 1, parts: [['CO', false]],              at: [18.04, 257.9], line: [[18.01, 245.8], [17.51, 160.5]] },
    { panel: 2, parts: [['CO', false], ['2', true]], at: [10.40, 219.3], line: [[11.55, 198.2], [12.56, 132.6]] }
];

const config = {
    width: 538, height: 751,
    left: 77, right: 505,
    panels: [
        { top: 13,    bottom: 185,   domain: [0, 1],          ticks: norm_ticks, labels: false, rdomain: [0, 1],           rticks: h2_ticks,
          title: [['norm ic m/e=32 [a.u.]', false]], rtitle: 'norm. ic m/e=2 [a.u.]' },
        { top: 185,   bottom: 358.5, domain: [150, 500],      ticks: ch4_ticks,  labels: true,  rdomain: [0.446, 1.198],   rticks: co_ticks,
          title: [['CH', false], ['4', true], [' conc. [ppm]', false]], rtitle: 'norm. ic m/e=28 [a.u.]' },
        { top: 358.5, bottom: 532,   domain: [47, 352],       ticks: co2_ticks,  labels: true,  rdomain: [47, 352],        rticks: co2_ticks,
          title: [['CO', false], ['2', true], [' conc. [ppm]', false]] },
        { top: 532,   bottom: 703,   domain: [1.045, 1.262],  ticks: wla_ticks,  labels: true,  rdomain: [1.045, 1.262],   rticks: wla_ticks,
          title: [['WLA [nom. abs. x eV]', false]], fmt: d3.format('.1f') }
    ]
};

const ink = '#111';
const text_color = '#333';

const svg = d3.select('#drawing_region')
    .attr('width', config.width)
    .attr('height', config.height);

const xscale = d3.scaleLinear().domain(time_range).range([config.left, config.right]);

// writes text with optional subscript pieces
function rich(sel, parts, size) {
    const shift = size * 0.3;
    parts.forEach(([s, sub], i) => {
        const t = sel.append('tspan').text(s);
        if (sub) t.attr('font-size', size * 0.72).attr('dy', shift);
        else if (i > 0 && parts[i - 1][1]) t.attr('dy', -shift);
    });
}

const panels = config.panels.map((p, i) => {
    const y = d3.scaleLinear().domain(p.domain).range([p.bottom, p.top]);
    const yr = d3.scaleLinear().domain(p.rdomain).range([p.bottom, p.top]);

    svg.append('clipPath').attr('id', 'clip' + i)
        .append('rect')
        .attr('x', config.left).attr('y', p.top)
        .attr('width', config.right - config.left).attr('height', p.bottom - p.top);

    const g = svg.append('g');

    // left axis, ticks pointing inward
    const left = d3.axisLeft(y).tickValues(p.ticks).tickSize(-11).tickPadding(10)
        .tickFormat(p.labels ? (p.fmt || d3.format('d')) : '');
    g.append('g').attr('transform', `translate(${config.left},0)`).call(left)
        .call(a => a.select('.domain').remove());

    const right = d3.axisRight(yr).tickValues(p.rticks).tickSize(-11).tickFormat('');
    g.append('g').attr('transform', `translate(${config.right},0)`).call(right)
        .call(a => a.select('.domain').remove());

    // time ticks on top and bottom edge of every panel
    [[d3.axisTop, p.top], [d3.axisBottom, p.bottom]].forEach(([ax, yy]) => {
        g.append('g').attr('transform', `translate(0,${yy})`)
            .call(ax(xscale).tickValues(time_minor.filter(v => v % 5 !== 0)).tickSize(-4).tickFormat(''))
            .call(a => a.select('.domain').remove());
        g.append('g').attr('transform', `translate(0,${yy})`)
            .call(ax(xscale).tickValues(time_labels).tickSize(-7).tickFormat(''))
            .call(a => a.select('.domain').remove());
    });

    g.selectAll('.tick line').attr('stroke', ink).attr('stroke-width', 1.2);
    g.selectAll('.tick text')
        .attr('font-size', 18).attr('fill', text_color)
        .attr('font-family', '"Liberation Sans", Arial, sans-serif');

    const title = svg.append('text')
        .attr('transform', `translate(27,${(p.top + p.bottom) / 2}) rotate(-90)`)
        .attr('text-anchor', 'middle')
        .attr('font-size', 14.5).attr('fill', text_color);
    rich(title, p.title, 14.5);

    if (p.rtitle) {
        svg.append('text')
            .attr('transform', `translate(526,${(p.top + p.bottom) / 2 - 2}) rotate(90)`)
            .attr('text-anchor', 'middle')
            .attr('font-size', 14.5).attr('fill', text_color)
            .text(p.rtitle);
    }

    const plot = svg.append('g').attr('clip-path', `url(#clip${i})`);
    return { y, yr, plot };
});

// x labels under the bottom panel
const last = config.panels[config.panels.length - 1];
svg.append('g').attr('transform', `translate(0,${last.bottom})`)
    .call(d3.axisBottom(xscale).tickValues(time_labels).tickSize(0).tickPadding(11))
    .call(a => a.select('.domain').remove())
    .call(a => a.selectAll('text').attr('font-size', 18).attr('fill', text_color)
        .attr('font-family', '"Liberation Sans", Arial, sans-serif'));

svg.append('text')
    .attr('x', (config.left + config.right) / 2).attr('y', 746)
    .attr('text-anchor', 'middle')
    .attr('font-size', 14.5).attr('fill', text_color)
    .text('Time [min]');

function curve(panel, scale, data, style, shape) {
    const line = d3.line()
        .x(d => xscale(d[0]))
        .y(d => scale(d[1]))
        .curve(shape || d3.curveMonotoneX);
    const path = panels[panel].plot.append('path')
        .datum(data)
        .attr('d', line)
        .attr('fill', 'none')
        .attr('stroke', ink)
        .attr('stroke-linejoin', 'round');
    Object.entries(style).forEach(([k, v]) => path.attr(k, v));
}

// panel 1
curve(0, panels[0].y, o2_data, { 'stroke-width': 1.8 });
curve(0, panels[0].yr, h2_data, { 'stroke-width': 2.2, 'stroke-dasharray': '7,4' });

// panel 2
curve(1, panels[1].y, ch4_data, { 'stroke-width': 1.8 });
curve(1, panels[1].yr, co_data, { 'stroke-width': 1.8, 'stroke-dasharray': '2.2,1.4' }, d3.curveLinear);

// panel 3
curve(2, panels[2].y, co2_data, { 'stroke-width': 1.8 });

// panel 4
panels[3].plot.append('g')
    .selectAll('circle')
    .data(wla_points.concat(wla_points_2))
    .join('circle')
    .attr('cx', d => xscale(d[0]))
    .attr('cy', d => panels[3].y(d[1]))
    .attr('r', 0.95)
    .attr('fill', '#6e6e6e');
curve(3, panels[3].y, wla_mean, { 'stroke-width': 1.7 }, d3.curveLinear);

// callouts
callouts.forEach(c => {
    const y = panels[c.panel].y;
    svg.append('line')
        .attr('x1', xscale(c.line[0][0])).attr('y1', y(c.line[0][1]))
        .attr('x2', xscale(c.line[1][0])).attr('y2', y(c.line[1][1]))
        .attr('stroke', '#555').attr('stroke-width', 1);
    const t = svg.append('text')
        .attr('x', xscale(c.at[0])).attr('y', y(c.at[1]))
        .attr('font-size', 16).attr('fill', text_color);
    rich(t, c.parts, 16);
});

// panel frames
config.panels.forEach(p => {
    svg.append('rect')
        .attr('x', config.left).attr('y', p.top)
        .attr('width', config.right - config.left).attr('height', p.bottom - p.top)
        .attr('fill', 'none').attr('stroke', ink).attr('stroke-width', 1.5);
});
</script>
</body>
</html>
